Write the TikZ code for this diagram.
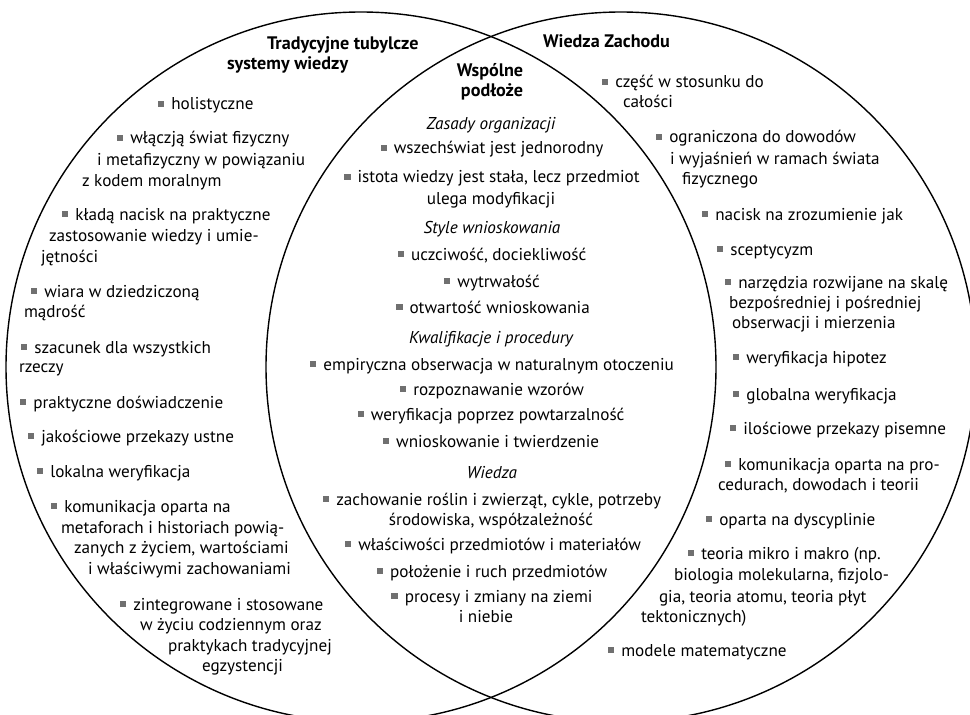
\documentclass[tikz,border=0pt]{standalone}
\usepackage{fontspec}
\setmainfont{PT Sans}
\definecolor{bulgray}{HTML}{707070}
\newcommand\bu{{\color{bulgray}\rule[2.7bp]{6.3bp}{6.3bp}}\hspace{7bp}}
\begin{document}
\begin{tikzpicture}[x=1bp,y=-1bp,
  every node/.style={inner sep=0pt,outer sep=0pt,font=\fontsize{17.2}{20}\selectfont},
  lt/.style={anchor=base west},
  ct/.style={anchor=base},
  hd/.style={anchor=base west,font=\fontsize{18.2}{21}\selectfont\bfseries},
  it/.style={anchor=base,font=\fontsize{17.2}{20}\selectfont\itshape},
  ring/.style={draw=black,line width=1.4bp}]
\useasboundingbox (0,0) rectangle (970,715);
\begin{scope}
\clip (0,0) rectangle (970,715);
\draw[ring] (361,367) circle[radius=355];
\draw[ring] (621,367) circle[radius=355];
\end{scope}
% left titles
\node[hd] (tl1) at (267,50) {Tradycyjne tubylcze};
\node[hd] (tl2) at (227,70) {systemy wiedzy};
% left items
\node[lt] (a1) at (158,110) {\bu holistyczne};
\node[lt] (a2) at (117,144) {\bu włączją świat fizyczny};
\node[lt] (a3) at (97,166) {i metafizyczny w powiązaniu};
\node[lt] (a4) at (82,187) {z kodem moralnym};
\node[lt] (a5) at (62,220) {\bu kładą nacisk na praktyczne};
\node[lt] (a6) at (49,241) {zastosowanie wiedzy i umie-};
\node[lt] (a7) at (41,262) {jętności};
\node[lt] (a8) at (31,297) {\bu wiara w dziedziczoną};
\node[lt] (a9) at (24,317) {mądrość};
\node[lt] (a10) at (21,353) {\bu szacunek dla wszystkich};
\node[lt] (a11) at (19,372) {rzeczy};
\node[lt] (a12) at (20,408) {\bu praktyczne doświadczenie};
\node[lt] (a13) at (28,442) {\bu jakościowe przekazy ustne};
\node[lt] (a14) at (37,477) {\bu lokalna weryfikacja};
\node[lt] (a15) at (51,512) {\bu komunikacja oparta na};
\node[lt] (a16) at (61,533) {metaforach i historiach powią-};
\node[lt] (a17) at (74,553) {zanych z życiem, wartościami};
\node[lt] (a18) at (88,574) {i właściwymi zachowaniami};
\node[lt] (a19) at (120,610) {\bu zintegrowane i stosowane};
\node[lt] (a20) at (140,630) {w życiu codziennym oraz};
\node[lt] (a21) at (168,651) {praktykach tradycyjnej};
\node[lt] (a22) at (202,671) {egzystencji};
% middle
\node[hd,anchor=base] (tm1) at (490,77) {Wspólne};
\node[hd,anchor=base] (tm2) at (492,97) {podłoże};
\node[it] (m1) at (491,130) {Zasady organizacji};
\node[ct] (m2) at (492,154) {\bu wszechświat jest jednorodny};
\node[ct] (m3) at (492,183) {\bu istota wiedzy jest stała, lecz przedmiot};
\node[ct] (m4) at (491,204) {ulega modyfikacji};
\node[it] (m5) at (492,233) {Style wnioskowania};
\node[ct] (m6) at (492,260) {\bu uczciwość, dociekliwość};
\node[ct] (m7) at (492,287) {\bu wytrwałość};
\node[ct] (m8) at (493,313) {\bu otwartość wnioskowania};
\node[it] (m9) at (491,343) {Kwalifikacje i procedury};
\node[ct] (m10) at (492,370) {\bu empiryczna obserwacja w naturalnym otoczeniu};
\node[ct] (m11) at (492,395) {\bu rozpoznawanie wzorów};
\node[ct] (m12) at (491,420) {\bu weryfikacja poprzez powtarzalność};
\node[ct] (m13) at (491,447) {\bu wnioskowanie i twierdzenie};
\node[it] (m14) at (492,478) {Wiedza};
\node[ct] (m15) at (492,505) {\bu zachowanie roślin i zwierząt, cykle, potrzeby};
\node[ct] (m16) at (491,525) {środowiska, współzależność};
\node[ct] (m17) at (493,550) {\bu właściwości przedmiotów i materiałów};
\node[ct] (m18) at (492,577) {\bu położenie i ruch przedmiotów};
\node[ct] (m19) at (492,602) {\bu procesy i zmiany na ziemi};
\node[ct] (m20) at (486,622) {i niebie};
% right title
\node[hd] (tr1) at (543,48) {Wiedza Zachodu};
% right items
\node[lt] (b1) at (602,88) {\bu część w stosunku do};
\node[lt] (b2) at (623,108) {całości};
\node[lt] (b3) at (656,143) {\bu ograniczona do dowodów};
\node[lt] (b4) at (670,165) {i wyjaśnień w ramach świata};
\node[lt] (b5) at (682,185) {fizycznego};
\node[lt] (b6) at (702,220) {\bu nacisk na zrozumienie jak};
\node[lt] (b7) at (717,255) {\bu sceptycyzm};
\node[lt] (b8) at (725,288) {\bu narzędzia rozwijane na skalę};
\node[lt] (b9) at (729,308) {bezpośredniej i pośredniej};
\node[lt] (b10) at (732,328) {obserwacji i mierzenia};
\node[lt] (b11) at (733,363) {\bu weryfikacja hipotez};
\node[lt] (b12) at (733,400) {\bu globalna weryfikacja};
\node[lt] (b13) at (730,434) {\bu ilościowe przekazy pisemne};
\node[lt] (b14) at (725,470) {\bu komunikacja oparta na pro-};
\node[lt] (b15) at (718,490) {cedurach, dowodach i teorii};
\node[lt] (b16) at (706,525) {\bu oparta na dyscyplinie};
\node[lt] (b17) at (688,559) {\bu teoria mikro i makro (np.};
\node[lt] (b18) at (674,580) {biologia molekularna, fizjolo-};
\node[lt] (b19) at (659,602) {gia, teoria atomu, teoria płyt};
\node[lt] (b20) at (641,622) {tektonicznych)};
\node[lt] (b21) at (608,656) {\bu modele matematyczne};
\end{tikzpicture}
\end{document}
